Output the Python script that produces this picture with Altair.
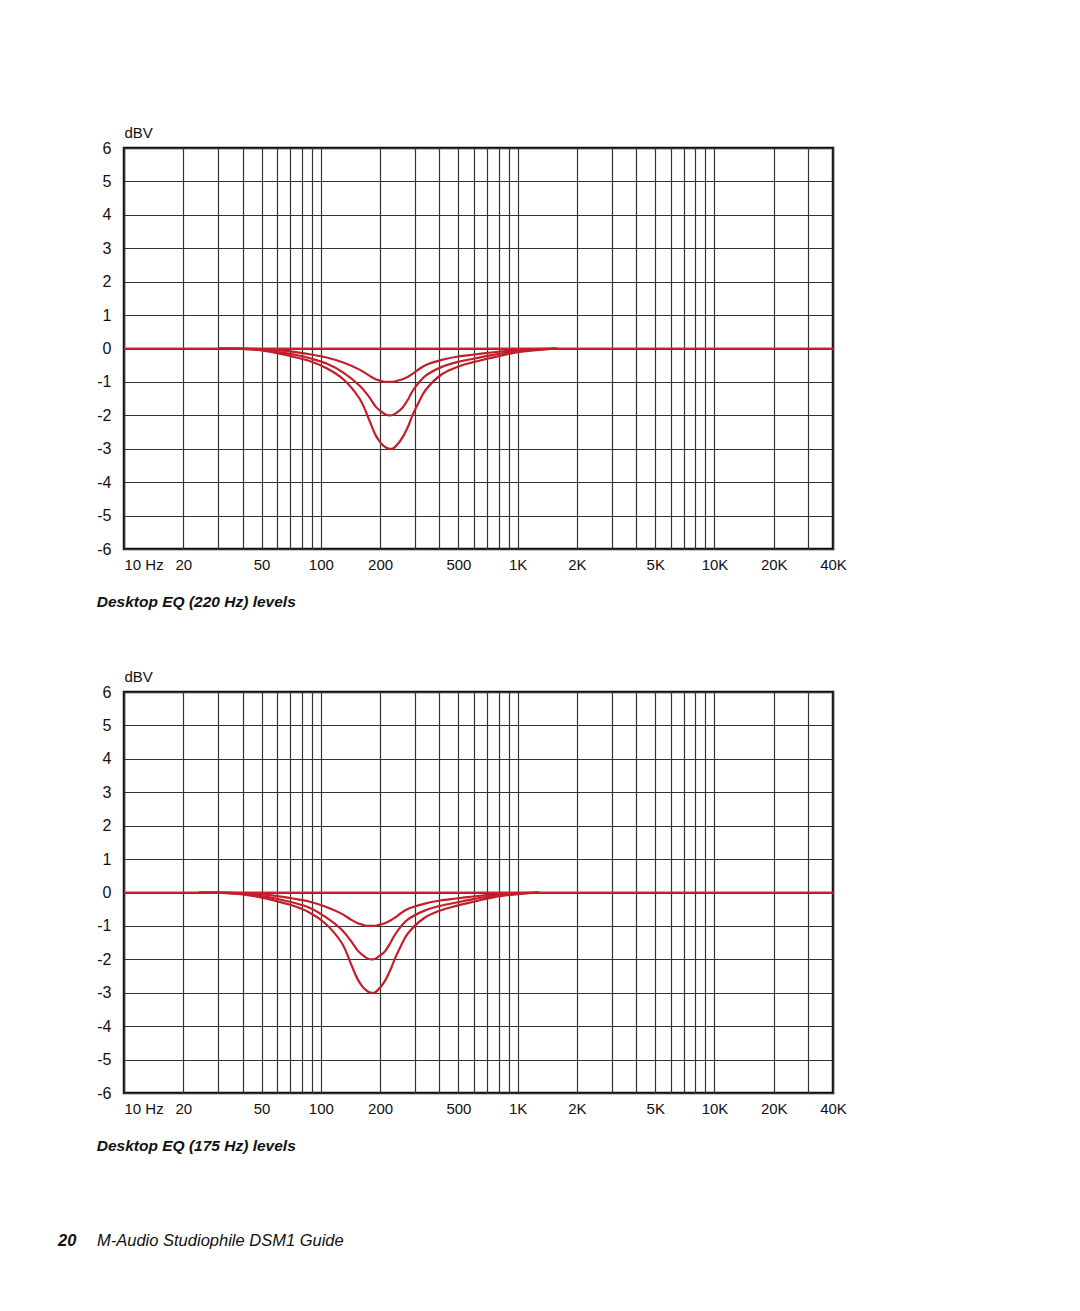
import altair as alt
import pandas as pd

# ---- data ----
# frequencies (Hz) of the sampled points, panel 1 (220 Hz) and panel 2 (175 Hz)
freq_220 = [30, 41, 50, 60, 73, 89, 107, 130, 158, 177, 190, 200, 207, 215, 223, 232, 240, 260,
            280, 292, 315, 340, 412, 499, 603, 733, 888, 1070, 1580]
freq_175 = [24, 33, 40, 49, 59, 72, 87, 105, 128, 143, 154, 162, 168, 174, 181, 188, 194, 211,
            227, 237, 255, 275, 334, 404, 488, 594, 719, 867, 1280]
# gains (dBV) of the three cut levels
gain_1db = [0, 0, -0.02, -0.05, -0.10, -0.18, -0.27, -0.42, -0.64, -0.82, -0.92, -0.96, -0.99, -1.0,
            -1.0, -1.0, -0.98, -0.92, -0.83, -0.76, -0.62, -0.50, -0.34, -0.24, -0.18, -0.12,
            -0.07, -0.03, 0]
gain_2db = [0, -0.01, -0.04, -0.10, -0.18, -0.30, -0.45, -0.72, -1.12, -1.47, -1.74, -1.86, -1.93,
            -1.98, -2.0, -1.99, -1.94, -1.77, -1.48, -1.28, -1.02, -0.82, -0.55, -0.40, -0.30,
            -0.20, -0.12, -0.06, 0]
gain_3db = [0, -0.02, -0.06, -0.14, -0.25, -0.39, -0.59, -0.92, -1.52, -2.17, -2.60, -2.80, -2.90,
            -2.97, -3.0, -2.99, -2.93, -2.66, -2.28, -2.0, -1.60, -1.25, -0.77, -0.54, -0.40,
            -0.28, -0.17, -0.09, 0]
flat_freq = [10, 40000]
flat_gain = [0, 0]

x_grid = [10, 20, 30, 40, 50, 60, 70, 80, 90, 100,
          200, 300, 400, 500, 600, 700, 800, 900, 1000,
          2000, 3000, 4000, 5000, 6000, 7000, 8000, 9000, 10000,
          20000, 30000, 40000]
x_label_vals = [10, 20, 50, 100, 200, 500, 1000, 2000, 5000, 10000, 20000, 40000]
x_label_text = ["10 Hz", "20", "50", "100", "200", "500", "1K", "2K", "5K", "10K", "20K", "40K"]
y_ticks = [-6, -5, -4, -3, -2, -1, 0, 1, 2, 3, 4, 5, 6]

captions = ["Desktop EQ (220 Hz) levels", "Desktop EQ (175 Hz) levels"]
footer_num = ["20"]
footer_text = ["M-Audio Studiophile DSM1 Guide"]

FONT = "Liberation Sans"
RED_FLAT = "#d22535"
RED = "#c21f2a"
GRID = "#333333"

label_expr = ""
for v, t in zip(x_label_vals, x_label_text):
    label_expr += f"datum.value == {v} ? '{t}' : "
label_expr += "''"


def panel(freqs, caption):
    rows = []
    for name, g in [("-1", gain_1db), ("-2", gain_2db), ("-3", gain_3db)]:
        for f, v in zip(freqs, g):
            rows.append({"freq": f, "gain": v, "level": name})
    df = pd.DataFrame(rows)
    flat = pd.DataFrame({"freq": flat_freq, "gain": flat_gain})

    x = alt.X("freq:Q",
              scale=alt.Scale(type="log", domain=[10, 40000], nice=False),
              axis=alt.Axis(values=x_grid, labelExpr=label_expr, title=None,
                            domain=False, ticks=False, tickSize=0,
                            labelFlush=False, labelOverlap=False,
                            labelAlign={"condition": {"test": "datum.value == 10", "value": "left"},
                                        "value": "center"},
                            labelPadding=8, labelFontSize=15, labelFont=FONT,
                            labelColor="#111111",
                            grid=True, gridColor=GRID, gridWidth=1.2, gridOpacity=1))
    y = alt.Y("gain:Q",
              scale=alt.Scale(domain=[-6, 6], nice=False, zero=False),
              axis=alt.Axis(values=y_ticks, labelExpr="datum.value + ''",
                            title="dBV", titleAngle=0, titleAlign="left",
                            titleBaseline="alphabetic", titleX=0, titleY=-11,
                            titleFont=FONT, titleFontSize=15, titleFontWeight="normal",
                            titleColor="#111111",
                            domain=False, ticks=False, tickSize=0, labelPadding=13,
                            labelFontSize=16, labelFont=FONT, labelColor="#111111",
                            grid=True, gridColor=GRID, gridWidth=1.2, gridOpacity=1))

    zero_line = alt.Chart(flat).mark_line(color=RED_FLAT, strokeWidth=2.2).encode(x=x, y=y)
    curves = alt.Chart(df).mark_line(color=RED, strokeWidth=2.2, interpolate="catmull-rom").encode(
        x=x, y=y, detail="level:N")
    return alt.layer(zero_line, curves).properties(
        width=709, height=401,
        view=alt.ViewBackground(stroke="#111111", strokeWidth=2.5),
        title=alt.TitleParams(caption, orient="bottom", anchor="start", offset=23,
                              font=FONT, fontSize=15.5, fontStyle="italic",
                              fontWeight="bold", color="#111111"))


p1 = panel(freq_220, captions[0])
p2 = panel(freq_175, captions[1])

fnum = alt.Chart(pd.DataFrame({"t": footer_num})).mark_text(
    align="left", baseline="middle", font=FONT, fontSize=16.5, fontWeight="bold",
    fontStyle="italic", color="#111111").encode(x=alt.value(-66), y=alt.value(30), text="t:N")
ftxt = alt.Chart(pd.DataFrame({"t": footer_text})).mark_text(
    align="left", baseline="middle", font=FONT, fontSize=16.5, fontStyle="italic",
    color="#111111").encode(x=alt.value(-27), y=alt.value(30), text="t:N")
footer = alt.layer(fnum, ftxt).properties(
    width=709, height=40, view=alt.ViewBackground(strokeWidth=0))

chart = alt.vconcat(p1, p2, footer, spacing=55).properties(
    padding={"left": 58, "top": 123, "right": 10, "bottom": 10},
    background="white")

chart.save("out.html", embed_options={"renderer": "svg", "actions": False})
